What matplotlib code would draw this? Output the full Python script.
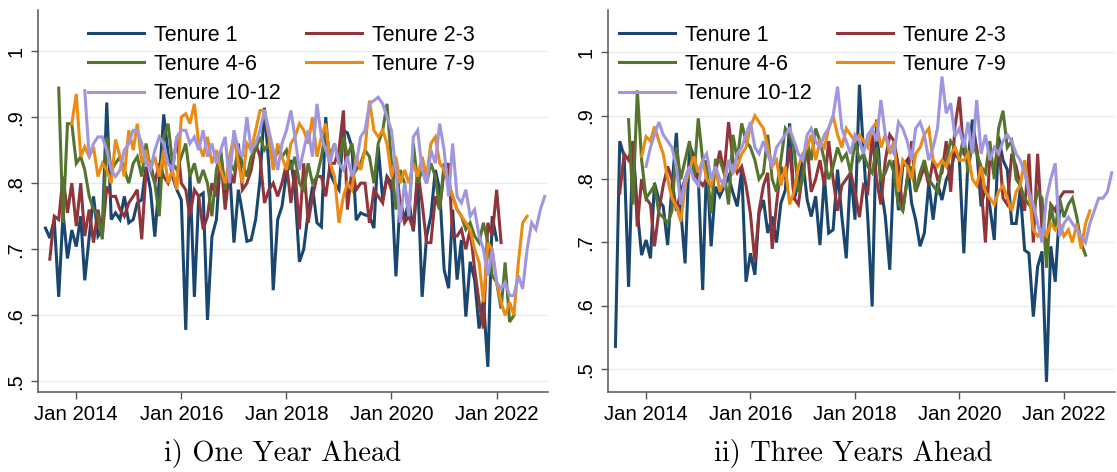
import pandas as pd
import numpy as np
import matplotlib
matplotlib.use("Agg")
import matplotlib.pyplot as plt
import matplotlib.dates as mdates

# ---- data: monthly shares, each list starts at the given month ----
labels = ['Tenure 1', 'Tenure 2-3', 'Tenure 4-6', 'Tenure 7-9', 'Tenure 10-12']
colors = ['#1a476f', '#90353b', '#55752f', '#ec8b13', '#a096e0']
starts = ['2013-06', '2013-07', '2013-09', '2013-12', '2014-03']
starts_r = ['2013-06', '2013-07', '2013-09', '2013-12', '2014-01']

one_t1 = [.732, .717, .745, .628, .755, .686, .729, .704, .750, .653,
          .719, .780, .720, .730, .922, .745, .755, .745, .780, .740,
          .745, .770, .775, .825, .790, .719, .805, .904, .845, .810,
          .790, .775, .578, .815, .628, .780, .785, .593, .719, .745,
          .845, .785, .825, .710, .790, .755, .712, .714, .745, .805,
          .914, .825, .638, .745, .765, .815, .835, .790, .681, .700,
          .755, .795, .740, .734, .900, .815, .800, .790, .880, .876,
          .855, .744, .755, .752, .750, .732, .855, .775, .810, .800,
          .659, .775, .744, .775, .727, .810, .628, .720, .750, .820,
          .790, .669, .641, .760, .654, .714, .598, .681, .654, .580,
          .623, .522, .750, .714]
one_t23 = [.685, .750, .745, .810, .755, .800, .735, .800, .720, .760,
           .710, .760, .720, .795, .780, .780, .760, .750, .770, .780,
           .790, .715, .820, .830, .800, .830, .810, .800, .820, .870,
           .800, .790, .750, .790, .780, .730, .750, .800, .780, .840,
           .760, .820, .800, .860, .790, .800, .820, .860, .840, .770,
           .790, .800, .780, .800, .830, .770, .820, .730, .830, .740,
           .780, .810, .810, .780, .830, .830, .850, .910, .760, .820,
           .790, .800, .800, .740, .790, .780, .770, .810, .790, .830,
           .770, .740, .750, .730, .820, .770, .710, .710, .780, .760,
           .820, .830, .720, .720, .730, .700, .730, .670, .620, .580,
           .740, .720, .790, .710]
one_t46 = [.944, .740, .890, .890, .830, .840, .820, .780, .760, .750,
           .715, .870, .820, .830, .840, .820, .800, .830, .840, .810,
           .860, .820, .800, .750, .870, .890, .830, .820, .840, .860,
           .810, .830, .800, .820, .800, .750, .820, .850, .790, .830,
           .820, .850, .830, .810, .840, .850, .870, .850, .860, .830,
           .850, .840, .850, .820, .840, .800, .790, .830, .800, .810,
           .840, .880, .840, .860, .830, .870, .840, .860, .820, .830,
           .850, .840, .800, .860, .880, .920, .830, .760, .820, .800,
           .750, .860, .800, .820, .800, .830, .810, .760, .830, .800,
           .780, .760, .750, .730, .740, .720, .710, .740, .710, .660,
           .650, .610, .680, .590, .600]
one_t79 = [.890, .935, .840, .855, .840, .855, .810, .830, .820, .800,
           .866, .840, .810, .880, .850, .890, .830, .850, .820, .840,
           .810, .850, .800, .820, .790, .900, .905, .890, .920, .860,
           .840, .870, .830, .850, .820, .800, .840, .870, .830, .800,
           .860, .850, .880, .910, .910, .870, .820, .860, .840, .820,
           .860, .870, .890, .880, .860, .900, .840, .870, .890, .830,
           .810, .740, .780, .800, .790, .840, .820, .850, .925, .880,
           .870, .880, .860, .810, .840, .800, .820, .800, .830, .810,
           .840, .810, .860, .870, .830, .820, .800, .780, .760, .750,
           .740, .730, .700, .680, .620, .710, .700, .650, .620, .600,
           .620, .600, .680, .740, .750]
one_t1012 = [.940, .840, .860, .870, .870, .850, .820, .810, .820, .850,
             .860, .880, .880, .860, .830, .820, .850, .870, .860, .830,
             .820, .870, .880, .880, .860, .870, .850, .880, .840, .860,
             .830, .850, .870, .800, .880, .850, .840, .900, .850, .860,
             .880, .910, .880, .850, .820, .860, .880, .910, .870, .820,
             .850, .880, .840, .920, .870, .850, .830, .860, .830, .820,
             .840, .810, .830, .870, .880, .920, .925, .930, .920, .900,
             .880, .820, .740, .800, .750, .870, .880, .820, .800, .850,
             .830, .890, .850, .780, .860, .780, .770, .790, .750, .760,
             .720, .700, .660, .700, .650, .640, .650, .630, .630, .660,
             .640, .700, .740, .730, .760, .780]

three_t1 = [.536, .860, .836, .630, .857, .750, .680, .704, .675, .794,
            .767, .757, .696, .788, .873, .751, .667, .854, .836, .804,
            .625, .830, .694, .788, .773, .788, .804, .778, .757, .815,
            .638, .683, .649, .746, .767, .715, .741, .700, .762, .783,
            .888, .767, .794, .830, .767, .741, .773, .696, .804, .715,
            .720, .815, .741, .675, .815, .736, .949, .846, .736, .599,
            .894, .788, .741, .657, .830, .751, .820, .830, .762, .736,
            .694, .715, .794, .736, .794, .767, .799, .815, .841, .830,
            .683, .830, .894, .846, .757, .788, .757, .704, .867, .830,
            .815, .730, .730, .783, .688, .683, .583, .662, .686, .480,
            .694, .638, .751]
three_t23 = [.778, .840, .830, .860, .725, .800, .770, .760, .694, .750,
             .790, .820, .800, .750, .780, .800, .820, .810, .800, .790,
             .800, .790, .810, .845, .810, .890, .830, .810, .820, .790,
             .745, .670, .750, .790, .810, .690, .760, .820, .800, .850,
             .770, .760, .810, .850, .780, .800, .830, .790, .860, .800,
             .750, .790, .800, .810, .780, .740, .790, .780, .870, .800,
             .760, .830, .870, .860, .820, .750, .800, .860, .780, .800,
             .820, .790, .830, .800, .810, .860, .780, .883, .930, .840,
             .830, .870, .850, .790, .700, .840, .810, .860, .770, .760,
             .840, .820, .790, .750, .840, .700, .840, .720, .694, .760,
             .750, .770, .780, .780, .780]
three_t46 = [.894, .760, .940, .830, .770, .780, .790, .746, .740, .730,
             .750, .850, .800, .830, .860, .800, .896, .830, .820, .746,
             .830, .830, .810, .760, .870, .830, .888, .860, .850, .830,
             .800, .810, .870, .800, .780, .830, .880, .870, .850, .780,
             .800, .860, .830, .880, .860, .830, .800, .820, .850, .830,
             .840, .810, .860, .830, .840, .820, .810, .850, .800, .810,
             .830, .810, .760, .750, .800, .820, .780, .810, .830, .800,
             .790, .780, .820, .830, .860, .850, .830, .870, .810, .860,
             .840, .820, .810, .860, .800, .880, .908, .850, .860, .800,
             .790, .770, .760, .750, .780, .770, .660, .760, .720, .770,
             .740, .760, .770, .740, .700, .680]
three_t79 = [.836, .867, .860, .883, .860, .840, .800, .770, .757, .733,
             .790, .815, .836, .810, .830, .800, .790, .820, .780, .800,
             .830, .810, .820, .840, .850, .883, .900, .890, .880, .850,
             .820, .830, .790, .820, .760, .780, .820, .840, .850, .870,
             .830, .860, .850, .880, .900, .870, .850, .880, .870, .860,
             .870, .860, .850, .880, .890, .850, .870, .840, .860, .780,
             .830, .820, .800, .840, .850, .870, .880, .830, .820, .830,
             .820, .840, .850, .830, .830, .840, .800, .790, .820, .780,
             .770, .760, .780, .790, .770, .750, .780, .790, .830, .780,
             .720, .710, .720, .710, .730, .720, .730, .710, .720, .700,
             .730, .690, .730, .750]
three_t1012 = [.820, .850, .870, .890, .870, .860, .850, .820, .760, .800,
               .820, .800, .790, .830, .840, .800, .820, .800, .790, .830,
               .810, .840, .850, .870, .890, .850, .840, .860, .840, .820,
               .850, .860, .870, .880, .860, .840, .830, .870, .880, .860,
               .850, .870, .880, .900, .946, .880, .860, .840, .870, .860,
               .840, .870, .880, .860, .925, .870, .850, .840, .890, .880,
               .860, .830, .880, .890, .870, .830, .850, .880, .962, .904,
               .920, .867, .880, .850, .890, .840, .925, .840, .870, .830,
               .850, .840, .860, .870, .860, .840, .830, .810, .780, .760,
               .730, .700, .770, .800, .825, .710, .730, .740, .730, .720,
               .710, .700, .730, .750, .770, .770, .780, .810]

one_year = [one_t1, one_t23, one_t46, one_t79, one_t1012]
three_year = [three_t1, three_t23, three_t46, three_t79, three_t1012]

plt.rcParams['font.family'] = ['Liberation Sans', 'DejaVu Sans']

W, H = 1117, 472
fig = plt.figure(figsize=(W / 100, H / 100), dpi=100)


def px_axes(x0, x1, y0, y1):
    return fig.add_axes([x0 / W, 1 - y1 / H, (x1 - x0) / W, (y1 - y0) / H])


def draw_panel(ax, series, start_list, ylim, legend_x):
    lines = []
    for vals, st, col, lab in zip(series, start_list, colors, labels):
        dates = pd.date_range(st + '-01', periods=len(vals), freq='MS')
        ln, = ax.plot(dates, vals, color=col, lw=2.2, label=lab,
                      solid_joinstyle='miter')
        lines.append(ln)
    ax.set_xlim(pd.Timestamp('2013-04-10'), pd.Timestamp('2022-12-24'))
    ax.set_ylim(*ylim)
    yt = [.5, .6, .7, .8, .9, 1.0]
    ax.set_yticks(yt)
    ax.set_yticklabels(['.5', '.6', '.7', '.8', '.9', '1'], rotation=90,
                       va='center', fontsize=14.5)
    xt = pd.to_datetime(['2014-01-01', '2016-01-01', '2018-01-01',
                         '2020-01-01', '2022-01-01'])
    ax.set_xticks(xt)
    ax.xaxis.set_major_formatter(mdates.DateFormatter('%b %Y'))
    ax.tick_params(axis='x', labelsize=14.7, length=5, width=1, color='#555555', pad=4)
    ax.tick_params(axis='y', length=5, width=1, color='#555555', pad=4)
    ax.grid(axis='y', color='#ebebeb', lw=1)
    ax.set_axisbelow(True)
    for s in ['top', 'right']:
        ax.spines[s].set_visible(False)
    for s in ['left', 'bottom']:
        ax.spines[s].set_color('#555555')
        ax.spines[s].set_linewidth(1.1)
    order = [0, 2, 4, 1, 3]
    ax.legend([lines[i] for i in order], [labels[i] for i in order], ncol=2,
              loc='upper left', bbox_to_anchor=(legend_x, 0.962),
              frameon=False, fontsize=15.5, handlelength=2.6,
              handletextpad=0.45, columnspacing=1.2, labelspacing=0.39,
              borderpad=0, borderaxespad=0)


ax1 = px_axes(38, 548, 10, 392)
draw_panel(ax1, one_year, starts, (0.484, 1.062), 0.098)
ax2 = px_axes(608, 1115, 10, 392)
draw_panel(ax2, three_year, starts_r, (0.464, 1.067), 0.022)

fig.text(283 / W, 1 - 454 / H, 'i) One Year Ahead', family='cmr10',
         fontsize=20.5, ha='center', va='center')
fig.text(853 / W, 1 - 454 / H, 'ii) Three Years Ahead', family='cmr10',
         fontsize=20.5, ha='center', va='center')

fig.savefig('out.png', dpi=100)
